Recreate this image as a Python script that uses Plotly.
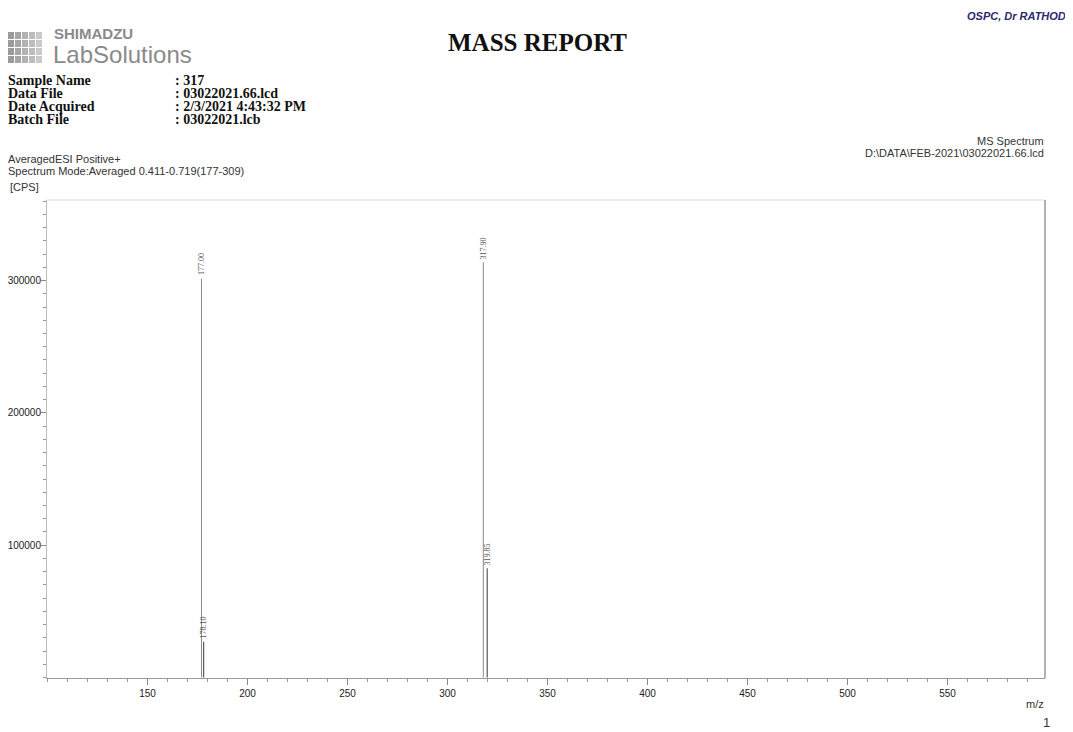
import plotly.graph_objects as go

# ---- data ----
peak_mz = [177.00, 178.10, 317.90, 319.85]
peak_intensity = [301500, 27000, 313800, 82500]
peak_colors = ["#8a8a8a", "#3a3a3a", "#8a8a8a", "#3a3a3a"]
x_tickvals = [150, 200, 250, 300, 350, 400, 450, 500, 550]
y_tickvals = [100000, 200000, 300000]

info_labels = ["Sample Name", "Data File", "Date Acquired", "Batch File"]
info_values = [": 317", ": 03022021.66.lcd", ": 2/3/2021 4:43:32 PM", ": 03022021.lcb"]

# page geometry (browser body has an 8px margin)
OFF = 8
W, H = 1073 - OFF, 732 - OFF
PL, PR, PT, PB = 47, 1045, 200, 678  # plot area in page pixels
L, R, T, B = PL - OFF, PR - OFF, PT - OFF, PB - OFF

fig = go.Figure()
for m, inten, c in zip(peak_mz, peak_intensity, peak_colors):
    fig.add_trace(go.Scatter(x=[m, m], y=[0, inten], mode="lines",
                             line=dict(color=c, width=1), hoverinfo="skip",
                             showlegend=False))
    fig.add_annotation(x=m, y=inten, xref="x", yref="y", text=f"{m:.2f}",
                       showarrow=False, textangle=-90, xanchor="center",
                       yanchor="bottom", yshift=1,
                       font=dict(family="Liberation Serif", size=8, color="#555"))

axis_font = dict(family="Liberation Sans", size=10, color="#222")
fig.update_xaxes(range=[99.75, 598.75], tickvals=x_tickvals,
                 ticktext=[str(v) for v in x_tickvals], ticks="outside",
                 ticklen=6, tickcolor="#888", tickfont=axis_font,
                 showline=True, linecolor="#999", linewidth=1, showgrid=False,
                 zeroline=False, automargin=False,
                 minor=dict(dtick=10, tick0=100, ticks="outside", ticklen=3,
                            tickcolor="#999", showgrid=False))
fig.update_yaxes(range=[-380, 360900], tickvals=y_tickvals,
                 ticktext=[str(v) for v in y_tickvals], ticks="outside",
                 ticklen=5, tickcolor="#888", tickfont=axis_font,
                 ticklabelstandoff=-2,
                 showline=True, linecolor="#bbb", linewidth=1, showgrid=False,
                 zeroline=False, automargin=False,
                 minor=dict(dtick=10000, tick0=0, ticks="outside", ticklen=3,
                            tickcolor="#999", showgrid=False))

shapes = []
shapes.append(dict(type="line", xref="paper", yref="paper", x0=0, x1=1, y0=1, y1=1,
                   line=dict(color="#ddd", width=1)))
shapes.append(dict(type="line", xref="paper", yref="paper", x0=1, x1=1, y0=0, y1=1,
                   line=dict(color="#666", width=1)))


def px(xp):
    return (xp - PL) / (PR - PL)


def py(yp):
    return (PB - yp) / (PB - PT)


# logo grid
greys = ["#9a9a9a", "#a6a6a6", "#b2b2b2", "#bebebe", "#cacaca"]
cols, rows = 5, 4
for ci in range(cols):
    for ri in range(rows):
        x0 = 8 + ci * 7
        y0 = 32 + ri * 8
        shapes.append(dict(type="rect", xref="paper", yref="paper",
                           x0=px(x0), x1=px(x0 + 6), y0=py(y0 + 7), y1=py(y0),
                           fillcolor=greys[ci], line=dict(width=0)))
fig.update_layout(shapes=shapes)

ann = []


def txt(x, y, s, size, family="Liberation Sans", color="#222", anchor="left",
        bold=False, italic=False, yanchor="middle"):
    if bold:
        s = f"<b>{s}</b>"
    if italic:
        s = f"<i>{s}</i>"
    ann.append(dict(x=px(x), y=py(y), xref="paper", yref="paper", text=s,
                    showarrow=False, xanchor=anchor, yanchor=yanchor,
                    font=dict(family=family, size=size, color=color)))


txt(1068, 8, "OSPC, Dr RATHOD", 11, color="#2a2a70", anchor="right", bold=True,
    italic=True, yanchor="top")
txt(52, 34, "SHIMADZU", 15, color="#8a8a8a", bold=True)
txt(51, 55, "LabSolutions", 24, color="#8a8a8a")
txt(537, 42, "MASS REPORT", 25, family="Liberation Serif", color="#111", anchor="center", bold=True)
for i, (lab, val) in enumerate(zip(info_labels, info_values)):
    yy = 80 + i * 13.3
    txt(6, yy, lab, 14, family="Liberation Serif", color="#111", bold=True)
    txt(173, yy, val, 14, family="Liberation Serif", color="#111", bold=True)
txt(1046, 141, "MS Spectrum", 11, anchor="right", color="#333")
txt(1046, 153, "D:\\DATA\\FEB-2021\\03022021.66.lcd", 11, anchor="right", color="#333")
txt(6, 159, "AveragedESI Positive+", 11, color="#333")
txt(6, 171, "Spectrum Mode:Averaged 0.411-0.719(177-309)", 11, color="#333")
txt(8, 187, "[CPS]", 11, color="#333")
txt(1046, 704, "m/z", 11, anchor="right", color="#333")
txt(1052, 722, "1", 13, anchor="right", color="#333")

fig.update_layout(annotations=list(fig.layout.annotations) + ann,
                  width=W, height=H,
                  margin=dict(l=L, r=W - R, t=T, b=H - B, pad=0, autoexpand=False),
                  paper_bgcolor="white", plot_bgcolor="white",
                  showlegend=False)

fig.write_html("out.html")
